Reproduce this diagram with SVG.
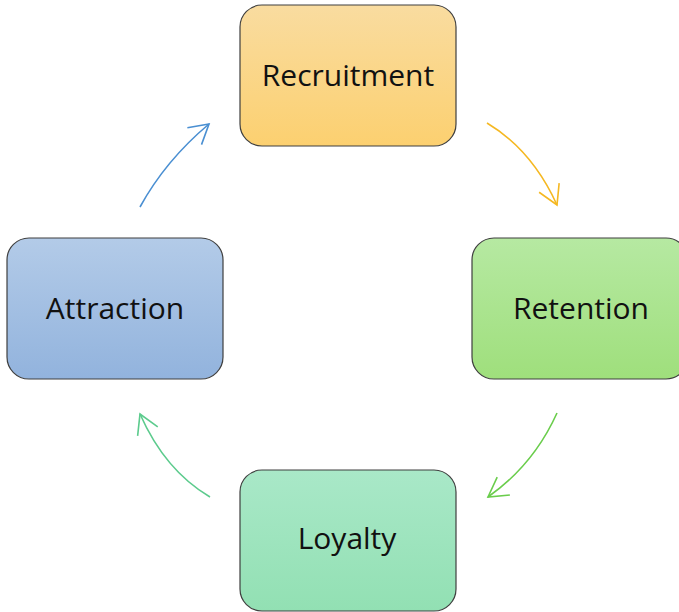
<svg xmlns="http://www.w3.org/2000/svg" width="679" height="612" viewBox="0 0 679 612">
<defs>
<linearGradient id="gOrange" x1="0" y1="0" x2="0" y2="1"><stop offset="0" stop-color="#f9dca0"/><stop offset="1" stop-color="#fcd070"/></linearGradient>
<linearGradient id="gGreen" x1="0" y1="0" x2="0" y2="1"><stop offset="0" stop-color="#b6e9a2"/><stop offset="1" stop-color="#9fdf7c"/></linearGradient>
<linearGradient id="gTeal" x1="0" y1="0" x2="0" y2="1"><stop offset="0" stop-color="#a9e8c8"/><stop offset="1" stop-color="#92e0b3"/></linearGradient>
<linearGradient id="gBlue" x1="0" y1="0" x2="0" y2="1"><stop offset="0" stop-color="#b3cbe8"/><stop offset="1" stop-color="#92b3dd"/></linearGradient>
<marker id="aOrange" markerUnits="userSpaceOnUse" markerWidth="30" markerHeight="30" viewBox="-25 -15 30 30" refX="0" refY="0" orient="auto"><path d="M-19,-11 L0,0 L-19,11" fill="none" stroke="#f5b822" stroke-width="1.6"/></marker>
<marker id="aBlue" markerUnits="userSpaceOnUse" markerWidth="30" markerHeight="30" viewBox="-25 -15 30 30" refX="0" refY="0" orient="auto"><path d="M-19,-11 L0,0 L-19,11" fill="none" stroke="#4a8fd2" stroke-width="1.6"/></marker>
<marker id="aGreen" markerUnits="userSpaceOnUse" markerWidth="30" markerHeight="30" viewBox="-25 -15 30 30" refX="0" refY="0" orient="auto"><path d="M-19,-11 L0,0 L-19,11" fill="none" stroke="#6acd4c" stroke-width="1.6"/></marker>
<marker id="aTeal" markerUnits="userSpaceOnUse" markerWidth="30" markerHeight="30" viewBox="-25 -15 30 30" refX="0" refY="0" orient="auto"><path d="M-19,-11 L0,0 L-19,11" fill="none" stroke="#5ccb8d" stroke-width="1.6"/></marker>
</defs>
<style>
.box{stroke:#3f3f3f;stroke-width:1.2}
.lbl{font-family:"Open Sans","Noto Sans",sans-serif;font-size:30px;fill:#111;text-anchor:middle}
.conn{fill:none;stroke-width:1.6}
</style>
<rect width="679" height="612" fill="#ffffff"/>
<g id="connectors">
<path class="conn" d="M487,123 Q532,150 557,205" stroke="#f5b822" marker-end="url(#aOrange)"/>
<path class="conn" d="M557,413 Q533.5,465 488,497" stroke="#6acd4c" marker-end="url(#aGreen)"/>
<path class="conn" d="M210,497 Q165,470.5 140,414" stroke="#5ccb8d" marker-end="url(#aTeal)"/>
<path class="conn" d="M140,207 Q165.5,160.5 209,124" stroke="#4a8fd2" marker-end="url(#aBlue)"/>
</g>
<g id="node-recruitment">
<rect class="box" x="240" y="5" width="216" height="141" rx="22" fill="url(#gOrange)"/>
<text class="lbl" x="348" y="86">Recruitment</text>
</g>
<g id="node-retention">
<rect class="box" x="472" y="238" width="216" height="141" rx="22" fill="url(#gGreen)"/>
<text class="lbl" x="581" y="319">Retention</text>
</g>
<g id="node-loyalty">
<rect class="box" x="240" y="470" width="216" height="141" rx="22" fill="url(#gTeal)"/>
<text class="lbl" x="347" y="549">Loyalty</text>
</g>
<g id="node-attraction">
<rect class="box" x="7" y="238" width="216" height="141" rx="22" fill="url(#gBlue)"/>
<text class="lbl" x="115" y="319">Attraction</text>
</g>
</svg>
